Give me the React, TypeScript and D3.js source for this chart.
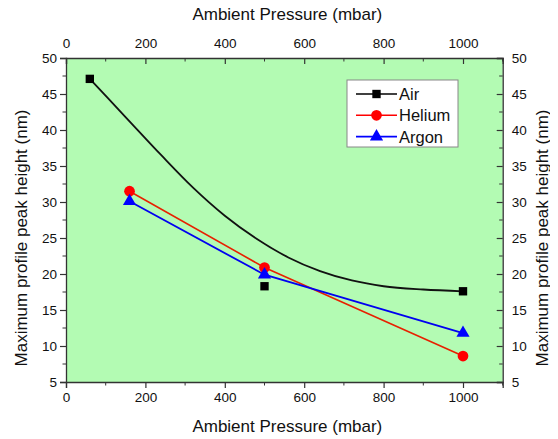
import React, { useEffect, useRef } from 'react';
import * as d3 from 'd3';

// measured points
const airX = [60, 500, 1000];
const airY = [47.1, 18.3, 17.6];
const heliumX = [160, 500, 1000];
const heliumY = [31.5, 20.9, 8.6];
const argonX = [160, 500, 1000];
const argonY = [30.1, 19.9, 11.8];

// smooth curve drawn through the air data
const airCurveX = [60, 150, 240, 320, 400, 480, 560, 640, 720, 800, 900, 1000];
const airCurveY = [47.1, 41.8, 36.5, 32.0, 28.1, 24.9, 22.3, 20.4, 19.1, 18.3, 17.85, 17.6];

const xTicks = [0, 200, 400, 600, 800, 1000];
const yTicks = [5, 10, 15, 20, 25, 30, 35, 40, 45, 50];
const legendLabels = ['Air', 'Helium', 'Argon'];

const FONT = 'Liberation Sans, Arial, sans-serif';

function initChart(node: SVGSVGElement) {
  const totalWidth = 558;
  const totalHeight = 439;
  const left = 66, right = 502.7, top = 58, bottom = 382;

  const svg = d3.select(node).attr('width', totalWidth).attr('height', totalHeight);
  svg.selectAll('*').remove();

  const x = d3.scaleLinear().domain([0, 1100]).range([left, right]);
  const y = d3.scaleLinear().domain([5, 50]).range([bottom, top]);

  svg.append('rect')
    .attr('x', left).attr('y', top)
    .attr('width', right - left).attr('height', bottom - top)
    .attr('fill', '#b3fbb3');

  const minorX = d3.range(0, 1101, 100);
  const minorY = d3.range(5, 50.1, 2.5);

  // bottom axis (ticks outward)
  const gB = svg.append('g').attr('transform', `translate(0,${bottom})`);
  gB.call(d3.axisBottom(x).tickValues(xTicks).tickSize(6).tickPadding(4).tickFormat(d3.format('d')));
  minorX.filter(v => !xTicks.includes(v)).forEach(v => {
    gB.append('line').attr('x1', x(v)).attr('x2', x(v)).attr('y1', 0).attr('y2', 3.5).attr('stroke', '#333');
  });

  // top axis (ticks inward)
  const gT = svg.append('g').attr('transform', `translate(0,${top})`);
  gT.call(d3.axisTop(x).tickValues(xTicks).tickSize(-6).tickPadding(10).tickFormat(d3.format('d')));
  minorX.filter(v => !xTicks.includes(v)).forEach(v => {
    gT.append('line').attr('x1', x(v)).attr('x2', x(v)).attr('y1', 0).attr('y2', 3.5).attr('stroke', '#333');
  });

  // left axis (ticks outward)
  const gL = svg.append('g').attr('transform', `translate(${left},0)`);
  gL.call(d3.axisLeft(y).tickValues(yTicks).tickSize(6).tickPadding(3));
  minorY.filter(v => !yTicks.includes(v)).forEach(v => {
    gL.append('line').attr('x1', 0).attr('x2', -3.5).attr('y1', y(v)).attr('y2', y(v)).attr('stroke', '#333');
  });

  // right axis (ticks inward)
  const gR = svg.append('g').attr('transform', `translate(${right},0)`);
  gR.call(d3.axisRight(y).tickValues(yTicks).tickSize(-6).tickPadding(9));
  minorY.filter(v => !yTicks.includes(v)).forEach(v => {
    gR.append('line').attr('x1', 0).attr('x2', -3.5).attr('y1', y(v)).attr('y2', y(v)).attr('stroke', '#333');
  });

  [gB, gT, gL, gR].forEach(g => {
    g.select('.domain').attr('stroke', '#333').attr('stroke-width', 1.3);
    g.selectAll('.tick line').attr('stroke', '#333').attr('stroke-width', 1.2);
    g.selectAll('.tick text').attr('fill', '#111').style('font-size', '13.5px').style('font-family', FONT);
    g.attr('font-family', FONT);
  });

  // titles
  const titleStyle = (t: any) => t.style('font-size', '17px').style('font-family', FONT).attr('fill', '#111').attr('text-anchor', 'middle');
  svg.append('text').attr('x', (left + right) / 2 + 3).attr('y', 432).text('Ambient Pressure (mbar)').call(titleStyle);
  svg.append('text').attr('x', (left + right) / 2 + 3).attr('y', 20).text('Ambient Pressure (mbar)').call(titleStyle);
  svg.append('text').attr('transform', `translate(27,${(top + bottom) / 2 + 18}) rotate(-90)`)
    .text('Maximum profile peak height (nm)').call(titleStyle);
  svg.append('text').attr('transform', `translate(548,${(top + bottom) / 2 + 18}) rotate(-90)`)
    .text('Maximum profile peak height (nm)').call(titleStyle);

  // air fit curve
  const smooth = d3.line<[number, number]>().x(d => x(d[0])).y(d => y(d[1])).curve(d3.curveMonotoneX);
  svg.append('path')
    .datum(airCurveX.map((v, i) => [v, airCurveY[i]] as [number, number]))
    .attr('d', smooth)
    .attr('fill', 'none').attr('stroke', '#111').attr('stroke-width', 1.8);

  const straight = d3.line<[number, number]>().x(d => x(d[0])).y(d => y(d[1]));
  svg.append('path')
    .datum(heliumX.map((v, i) => [v, heliumY[i]] as [number, number]))
    .attr('d', straight).attr('fill', 'none').attr('stroke', '#e82000').attr('stroke-width', 1.6);
  svg.append('path')
    .datum(argonX.map((v, i) => [v, argonY[i]] as [number, number]))
    .attr('d', straight).attr('fill', 'none').attr('stroke', '#0000f0').attr('stroke-width', 1.8);

  const sq = d3.symbol().type(d3.symbolSquare).size(70);
  const ci = d3.symbol().type(d3.symbolCircle).size(90);
  const tr = d3.symbol().type(d3.symbolTriangle).size(75);

  airX.forEach((v, i) => {
    svg.append('path').attr('d', sq()).attr('transform', `translate(${x(v)},${y(airY[i])})`).attr('fill', '#000');
  });
  heliumX.forEach((v, i) => {
    svg.append('path').attr('d', ci()).attr('transform', `translate(${x(v)},${y(heliumY[i])})`).attr('fill', '#ff0000');
  });
  argonX.forEach((v, i) => {
    svg.append('path').attr('d', tr()).attr('transform', `translate(${x(v)},${y(argonY[i])})`).attr('fill', '#0000ff');
  });

  // legend
  const lg = svg.append('g').attr('transform', 'translate(347,80)');
  lg.append('rect').attr('width', 111).attr('height', 67).attr('fill', '#fff').attr('stroke', '#888').attr('stroke-width', 1);
  const colors = ['#000', '#ff0000', '#0000ff'];
  const syms = [sq, ci, tr];
  legendLabels.forEach((lab, i) => {
    const yy = 14 + i * 21.3;
    lg.append('line').attr('x1', 9).attr('x2', 50).attr('y1', yy).attr('y2', yy).attr('stroke', colors[i]).attr('stroke-width', 1.6);
    lg.append('path').attr('d', syms[i]()).attr('transform', `translate(29.5,${yy})`).attr('fill', colors[i]);
    lg.append('text').attr('x', 52).attr('y', yy + 6).text(lab)
      .style('font-size', '16.5px').style('font-family', FONT).attr('fill', '#111');
  });
}

const App = () => {
  const ref = useRef<SVGSVGElement>(null);
  useEffect(() => {
    if (ref.current) initChart(ref.current);
  }, []);
  return (
    <div style={{ margin: -8 }}>
      <svg ref={ref}></svg>
    </div>
  );
};

export default App;
